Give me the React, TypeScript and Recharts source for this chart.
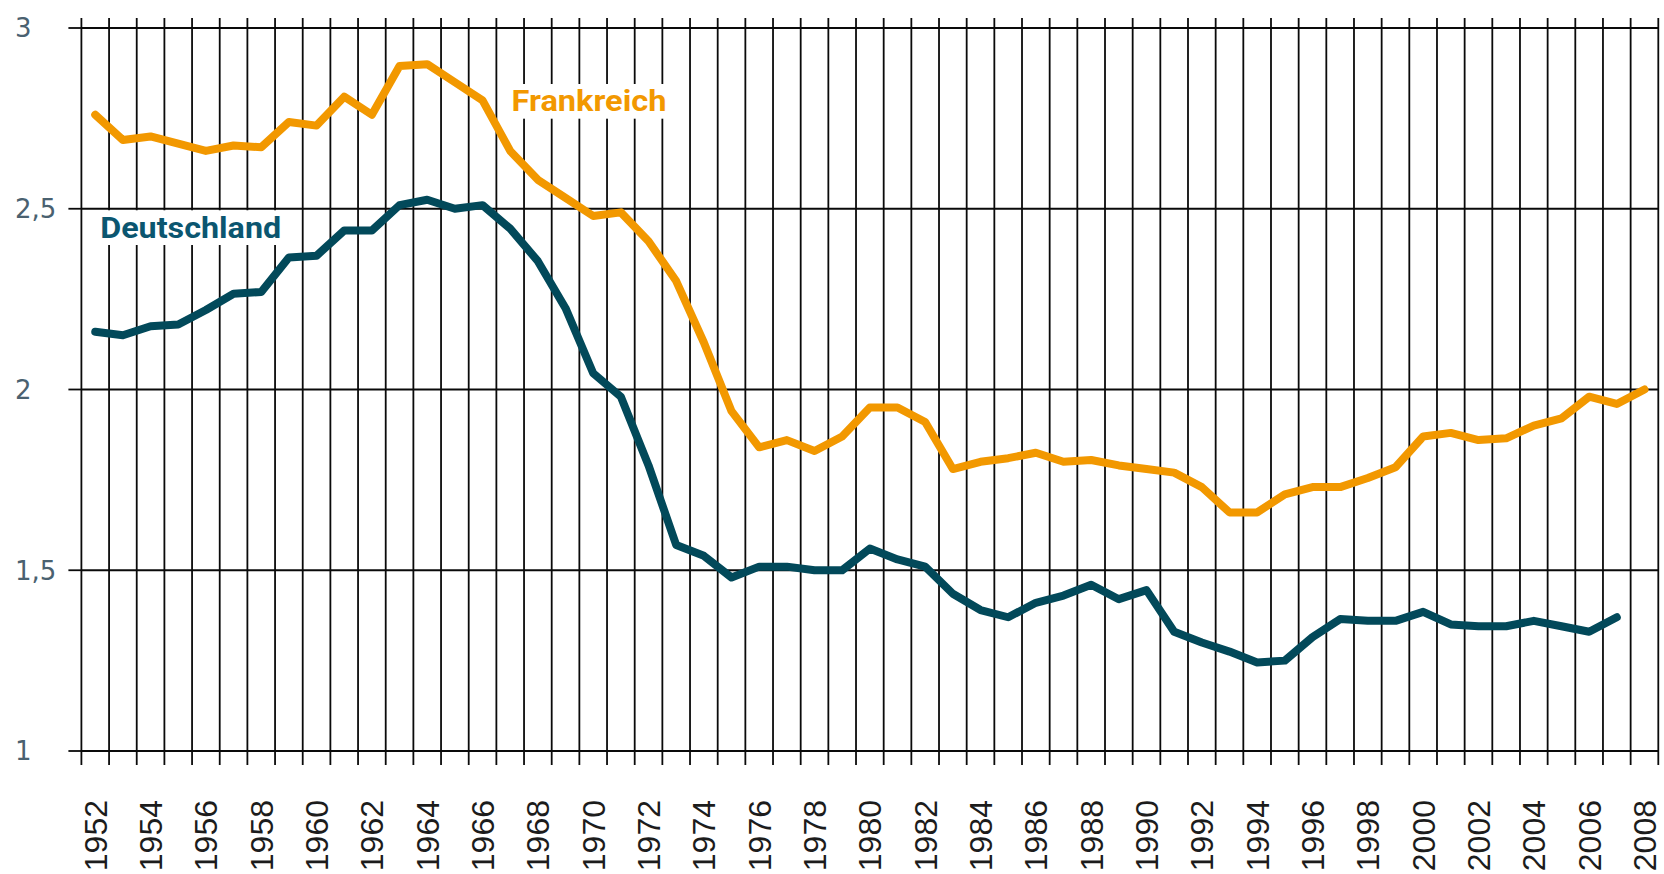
import React from "react";
import { LineChart, Line, XAxis, YAxis, CartesianGrid, ReferenceArea } from "recharts";

const years = [
  1952, 1953, 1954, 1955, 1956, 1957, 1958, 1959, 1960, 1961,
  1962, 1963, 1964, 1965, 1966, 1967, 1968, 1969, 1970, 1971,
  1972, 1973, 1974, 1975, 1976, 1977, 1978, 1979, 1980, 1981,
  1982, 1983, 1984, 1985, 1986, 1987, 1988, 1989, 1990, 1991,
  1992, 1993, 1994, 1995, 1996, 1997, 1998, 1999, 2000, 2001,
  2002, 2003, 2004, 2005, 2006, 2007, 2008,
];

const frankreich = [
  2.76, 2.69, 2.70, 2.68, 2.66, 2.675, 2.67, 2.74, 2.73, 2.81,
  2.76, 2.895, 2.90, 2.85, 2.80, 2.66, 2.58, 2.53, 2.48, 2.49,
  2.41, 2.30, 2.13, 1.94, 1.84, 1.86, 1.83, 1.87, 1.95, 1.95,
  1.91, 1.78, 1.80, 1.81, 1.825, 1.80, 1.805, 1.79, 1.78, 1.77,
  1.73, 1.66, 1.66, 1.71, 1.73, 1.73, 1.755, 1.785, 1.87, 1.88,
  1.86, 1.865, 1.90, 1.92, 1.98, 1.96, 2.00,
];

const deutschland = [
  2.16, 2.15, 2.175, 2.18, 2.22, 2.265, 2.27, 2.365, 2.37, 2.44,
  2.44, 2.51, 2.525, 2.50, 2.51, 2.445, 2.355, 2.225, 2.045, 1.98,
  1.79, 1.57, 1.54, 1.48, 1.51, 1.51, 1.50, 1.50, 1.56, 1.53,
  1.51, 1.435, 1.39, 1.37, 1.41, 1.43, 1.46, 1.42, 1.445, 1.33,
  1.30, 1.275, 1.245, 1.25, 1.315, 1.365, 1.36, 1.36, 1.385, 1.35,
  1.345, 1.345, 1.36, 1.345, 1.33, 1.37, null,
];

const yearLabels = [
  1952, 1954, 1956, 1958, 1960, 1962, 1964, 1966, 1968, 1970,
  1972, 1974, 1976, 1978, 1980, 1982, 1984, 1986, 1988, 1990,
  1992, 1994, 1996, 1998, 2000, 2002, 2004, 2006, 2008,
];

const valueTicks = [1, 1.5, 2, 2.5, 3];

// grid lines sit between the years
const yearEdges = [...years.map((y) => y - 0.5), years[years.length - 1] + 0.5];
const xDomain = [yearEdges[0], yearEdges[yearEdges.length - 1]];

const data = years.map((year, i) => ({ year, fr: frankreich[i], de: deutschland[i] }));

const annotations = [
  { text: "Deutschland", x1: 1952.05, x2: 1958.85, y1: 2.4, y2: 2.495, color: "#0b5670", len: 181 },
  { text: "Frankreich", x1: 1967.0, x2: 1972.7, y1: 2.75, y2: 2.845, color: "#f29800", len: 155 },
];

const INK = "#0a0a0a";

function NoTick() {
  return <g />;
}

function YearTick(props: any) {
  const { x, y, payload } = props;
  const ty = y + 35;
  return (
    <text
      x={x}
      y={ty}
      transform={`rotate(-90, ${x}, ${ty})`}
      textAnchor="end"
      dy="0.36em"
      fontSize={32}
      fontFamily="'Liberation Sans', Arial, sans-serif"
      fill="#1c1c1c"
    >
      {payload.value}
    </text>
  );
}

function ValueTick(props: any) {
  const { y, payload } = props;
  return (
    <text x={15} y={y} dy="0.36em" textAnchor="start" fontSize={26} fontFamily="'DejaVu Sans', sans-serif" fill="#4a6170">
      {String(payload.value).replace(".", ",")}
    </text>
  );
}

// white knock-out box with the series name, drawn inside the label so it sits above the grid
function annotationLabel(text: string, color: string, len: number) {
  return (p: any) => {
    const vb = p.viewBox;
    return (
      <g>
        <rect x={vb.x} y={vb.y} width={vb.width} height={vb.height} fill="#fff" />
        <text
          x={vb.x + vb.width / 2}
          y={vb.y + vb.height / 2 + 10}
          textAnchor="middle"
          fontSize={30}
          fontWeight={700}
          fontFamily="Roboto, 'Liberation Sans', sans-serif"
          fill={color}
          textLength={len}
          lengthAdjust="spacingAndGlyphs"
        >
          {text}
        </text>
      </g>
    );
  };
}

export default function App() {
  return (
    <div style={{ position: "absolute", left: 0, top: 0, width: 1664, height: 874, background: "#fff" }}>
      <LineChart width={1664} height={874} data={data} margin={{ top: 0, right: 0, bottom: 0, left: 0 }}>
        <XAxis
          xAxisId="top"
          orientation="top"
          type="number"
          dataKey="year"
          domain={xDomain}
          ticks={yearEdges}
          interval={0}
          height={28}
          tickSize={10}
          tick={<NoTick />}
          axisLine={false}
          tickLine={{ stroke: INK, strokeWidth: 1.8 }}
        />
        <XAxis
          xAxisId="grid"
          type="number"
          dataKey="year"
          domain={xDomain}
          ticks={yearEdges}
          interval={0}
          height={14}
          tickSize={14}
          tick={<NoTick />}
          axisLine={false}
          tickLine={{ stroke: INK, strokeWidth: 1.8 }}
        />
        <XAxis
          xAxisId="lab"
          type="number"
          dataKey="year"
          domain={xDomain}
          ticks={yearLabels}
          interval={0}
          height={109}
          tickSize={0}
          tickMargin={0}
          axisLine={false}
          tickLine={false}
          tick={<YearTick />}
        />
        <YAxis
          type="number"
          domain={[1, 3]}
          ticks={valueTicks}
          interval={0}
          width={81.4}
          tickSize={13}
          axisLine={false}
          tickLine={{ stroke: INK, strokeWidth: 1.8 }}
          tick={<ValueTick />}
        />
        <YAxis
          yAxisId="r"
          orientation="right"
          type="number"
          domain={[1, 3]}
          ticks={valueTicks}
          interval={0}
          width={5.7}
          tickSize={6}
          axisLine={false}
          tick={<NoTick />}
          tickLine={{ stroke: INK, strokeWidth: 1.8 }}
        />
        <CartesianGrid xAxisId="grid" stroke={INK} strokeWidth={1.8} />
        {annotations.map((a) => (
          <ReferenceArea
            key={a.text}
            xAxisId="grid"
            x1={a.x1}
            x2={a.x2}
            y1={a.y1}
            y2={a.y2}
            fill="#fff"
            fillOpacity={1}
            stroke="none"
            label={{ content: annotationLabel(a.text, a.color, a.len) }}
          />
        ))}
        <Line
          xAxisId="grid"
          type="linear"
          dataKey="fr"
          stroke="#f29800"
          strokeWidth={8}
          strokeLinejoin="round"
          strokeLinecap="round"
          dot={false}
          activeDot={false}
          isAnimationActive={false}
        />
        <Line
          xAxisId="grid"
          type="linear"
          dataKey="de"
          stroke="#02495a"
          strokeWidth={8}
          strokeLinejoin="round"
          strokeLinecap="round"
          dot={false}
          activeDot={false}
          isAnimationActive={false}
        />
      </LineChart>
    </div>
  );
}
